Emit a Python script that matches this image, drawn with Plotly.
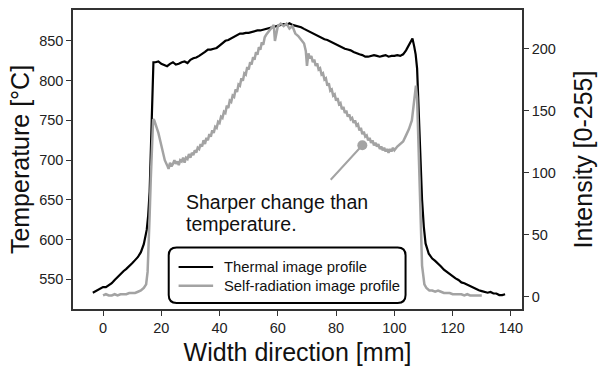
import plotly.graph_objects as go

# ---------------- data ----------------
thermal_x = [-3.5, -2, -1, 0, 1, 2, 3, 4, 5, 6, 7, 8, 9, 10, 11, 12, 13, 14, 15, 15.5, 16, 16.5, 17, 17.3,
             18, 19, 20, 21, 22, 23, 24, 25, 26, 27, 28, 29, 30, 31, 32, 33, 34, 35, 36, 37, 38, 39, 40,
             41, 42, 43, 44, 45, 46, 47, 48, 49, 50, 51, 52, 53, 54, 55, 56, 57, 58, 59, 60, 61, 62, 63,
             64, 65, 66, 67, 68, 69, 70, 71, 72, 73, 74, 75, 76, 77, 78, 79, 80, 81, 82, 83, 84, 85, 86,
             87, 88, 89, 90, 91, 92, 93, 94, 95, 96, 97, 98, 99, 100, 101, 102, 103, 104, 105, 106.2,
             106.8, 107.3, 107.8, 108.2, 108.6, 109, 109.5, 110.1, 110.7, 111.8, 113, 114, 115, 116, 117,
             118, 119, 120, 121, 122, 123, 124, 125, 126, 127, 128, 129, 130, 131, 132, 133, 134, 135,
             136, 137, 138]
thermal_t = [533, 536, 539, 540, 540, 542, 545, 549, 553, 556, 560, 563, 566, 570, 574, 578, 584, 594, 612, 630,
             660, 720, 790, 823,
             823, 824, 821, 819, 818, 821, 823, 820, 821, 823, 824, 822, 826, 828, 829, 831, 833, 836, 839,
             839, 840, 841, 844, 847, 850, 851, 853, 855, 857, 859, 859, 860, 860, 861, 862, 863, 863, 864,
             865, 866, 867, 868, 869, 870, 871, 870, 872, 870, 869, 868, 867, 865, 863, 861, 860, 858, 856,
             854, 852, 851, 849, 847, 845, 843, 841, 840, 839, 838, 836, 834, 833, 832, 830, 830, 831, 832,
             831, 830, 831, 832, 830, 831, 831, 832, 831, 833, 838, 845, 853,
             843, 833, 815, 774, 730, 691, 650, 616, 595, 582, 576, 573, 570, 566, 562,
             559, 556, 554, 551, 549, 546, 545, 543, 541, 539, 537, 536, 535, 534, 533, 534, 532, 532,
             530, 530, 531]

radiation_x = [0, 1, 2, 3, 4, 5, 6, 7, 8, 9, 10, 11, 12, 13, 14, 14.8, 15.3, 15.7, 16, 16.4, 16.8, 17.2,
               17.6, 18.2, 19, 19.8, 20.5, 21.2, 22, 22.5, 23, 23.5, 24, 24.5, 25, 25.5, 26, 26.5, 27,
               27.5, 28, 28.5, 29, 29.5, 30, 30.5, 31, 31.5, 32, 32.5, 33, 33.5, 34, 34.5, 35, 35.5, 36,
               36.5, 37, 37.5, 38, 38.5, 39, 39.5, 40, 40.5, 41, 41.5, 42, 42.5, 43, 43.5, 44, 44.5, 45,
               45.5, 46, 46.5, 47, 47.5, 48, 48.5, 49, 49.5, 50, 50.5, 51, 51.5, 52, 52.5, 53, 53.5, 54,
               54.5, 55, 55.5, 56, 57, 58, 58.6, 59, 60, 61, 62, 63, 64, 65, 66, 67, 68, 69, 69.6, 70,
               70.5, 71, 71.5, 72, 72.5, 73, 73.5, 74, 74.5, 75, 75.5, 76, 76.5, 77, 77.5, 78, 78.5, 79,
               79.5, 80, 80.5, 81, 81.5, 82, 82.5, 83, 83.5, 84, 84.5, 85, 85.5, 86, 86.5, 87, 87.5, 88,
               88.5, 89, 89.5, 90, 90.5, 91, 91.5, 92, 92.5, 93, 93.5, 94, 94.5, 95, 95.5, 96, 96.5, 97,
               97.5, 98, 98.5, 99, 99.5, 100, 101, 102, 103, 104, 105, 106, 106.6, 107, 107.4, 107.8,
               108.2, 108.6, 109, 109.5, 110.3, 111, 112, 113, 114, 115, 116, 117, 118, 119, 120, 121,
               122, 123, 124, 125, 126, 127, 128, 129, 130]
radiation_i = [1, 2, 1, 1, 2, 1, 2, 2, 2, 3, 3, 3, 4, 5, 7, 10, 20, 40, 65, 95, 125, 143,
               142, 138, 132, 124, 117, 110, 106, 103, 108, 105, 107, 110, 107, 109, 106, 110, 109,
               112, 108, 112, 111, 115, 112, 116, 114, 118, 116, 120, 119, 123, 121, 126, 123, 128, 126,
               131, 129, 134, 132, 137, 136, 141, 140, 145, 144, 149, 148, 154, 152, 158, 157, 162, 161,
               167, 165, 171, 170, 176, 174, 180, 179, 185, 183, 189, 187, 193, 191, 197, 195, 201, 199,
               205, 203, 209, 211, 214, 217, 219, 206, 218, 220, 218, 220, 216, 218, 212, 210, 207, 204, 198,
               186, 196, 192, 194, 189, 191, 186, 188, 183, 184, 179, 180, 175, 176, 170, 172, 166, 167,
               162, 163, 158, 160, 155, 156, 151, 153, 148, 150, 145, 147, 143, 144, 140, 142, 138, 139,
               134, 136, 131, 133, 129, 130, 126, 128, 124, 126, 122, 124, 121, 123, 119, 121, 118, 120,
               117, 119, 116, 119, 117, 120, 118, 121, 123, 125, 130, 135, 142, 155, 165, 170, 160, 130,
               95, 55, 25, 10, 7, 5, 5, 4, 5, 4, 3, 3, 3, 2, 2, 2, 2, 1, 2, 1, 1, 1, 1, 1, 1]

series_names = ["Thermal image profile", "Self-radiation image profile"]
series_colors = ["#000000", "#a3a3a3"]
series_widths = [2.2, 2.5]

x_ticks = [0, 20, 40, 60, 80, 100, 120, 140]
temp_ticks = [550, 600, 650, 700, 750, 800, 850]
int_ticks = [0, 50, 100, 150, 200]

note_point = (89, 122)  # (mm, intensity) pointed at by the note
note_lines = ["Sharper change than", "temperature."]

# ---------------- figure ----------------
FONT = "Liberation Sans, Arial, Helvetica, sans-serif"
AXC = "#333333"
W, H = 601, 372
ML, MR, MT, MB = 73, 73, 8, 63
PW, PH = W - ML - MR, H - MT - MB


def px2paper(px, py):
    return (px - ML) / PW, (H - MB - py) / PH


fig = go.Figure()
fig.add_trace(go.Scatter(x=thermal_x, y=thermal_t, mode="lines", name=series_names[0],
                         line=dict(color=series_colors[0], width=series_widths[0]), yaxis="y",
                         showlegend=False))
fig.add_trace(go.Scatter(x=radiation_x, y=radiation_i, mode="lines", name=series_names[1],
                         line=dict(color=series_colors[1], width=series_widths[1]), yaxis="y2",
                         showlegend=False))

axis_common = dict(showgrid=False, zeroline=False, showline=True, linecolor=AXC, linewidth=1.5,
                   ticks="outside", ticklen=5, tickwidth=1.3, tickcolor=AXC,
                   tickfont=dict(family=FONT, size=14.5, color="#222222"))

fig.update_layout(
    width=W, height=H,
    margin=dict(l=ML, r=MR, t=MT, b=MB, pad=0),
    paper_bgcolor="white", plot_bgcolor="white",
    font=dict(family=FONT, color="#111111"),
    showlegend=False,
    xaxis=dict(range=[-10.3, 143.8], tickvals=x_ticks, mirror=True,
               title=dict(text="Width direction [mm]", font=dict(size=25, family=FONT, color="#111111"),
                          standoff=8),
               **axis_common),
    yaxis=dict(range=[512.5, 888.75], tickvals=temp_ticks,
               title=dict(text="Temperature [°C]", font=dict(size=25, family=FONT, color="#111111"),
                          standoff=2),
               **axis_common),
    yaxis2=dict(range=[-9.9, 231], tickvals=int_ticks, overlaying="y", side="right",
                title=dict(text="Intensity [0-255]", font=dict(size=25, family=FONT, color="#111111"),
                           standoff=20),
                **axis_common),
)

# legend: rounded frame, sample lines and labels
x0, y0 = px2paper(170, 303)
x1, y1 = px2paper(410, 247)
rx, ry = 8 / PW, 8 / PH
path = (f"M{x0+rx},{y0} L{x1-rx},{y0} Q{x1},{y0} {x1},{y0+ry} L{x1},{y1-ry} Q{x1},{y1} {x1-rx},{y1} "
        f"L{x0+rx},{y1} Q{x0},{y1} {x0},{y1-ry} L{x0},{y0+ry} Q{x0},{y0} {x0+rx},{y0} Z")
fig.add_shape(type="path", path=path, xref="paper", yref="paper",
              line=dict(color="#000000", width=2), fillcolor="rgba(255,255,255,0)")
for row, (name, col, wd) in enumerate(zip(series_names, series_colors, series_widths)):
    py = 266.7 + 19 * row
    lx0, ly = px2paper(180, py)
    lx1, _ = px2paper(215, py)
    tx, _ = px2paper(224, py)
    fig.add_shape(type="line", xref="paper", yref="paper", x0=lx0, x1=lx1, y0=ly, y1=ly,
                  line=dict(color=col, width=wd))
    fig.add_annotation(x=tx, y=ly, xref="paper", yref="paper", text=name, showarrow=False,
                       xanchor="left", yanchor="middle",
                       font=dict(family=FONT, size=14.8, color="#111111"))

# note with pointer
fig.add_annotation(x=note_point[0], y=note_point[1], xref="x", yref="y2", text="",
                   showarrow=True, ax=-33, ay=36, arrowhead=6, arrowsize=1.25, arrowwidth=2,
                   arrowcolor="#a3a3a3", standoff=0, startstandoff=0)
tx, ty1 = px2paper(185, 201)
_, ty2 = px2paper(185, 223)
for ty, line in zip([ty1, ty2], note_lines):
    fig.add_annotation(x=tx, y=ty, xref="paper", yref="paper", text=line, showarrow=False,
                       xanchor="left", yanchor="middle",
                       font=dict(family=FONT, size=19.5, color="#111111"))

fig.write_html("out.html")
